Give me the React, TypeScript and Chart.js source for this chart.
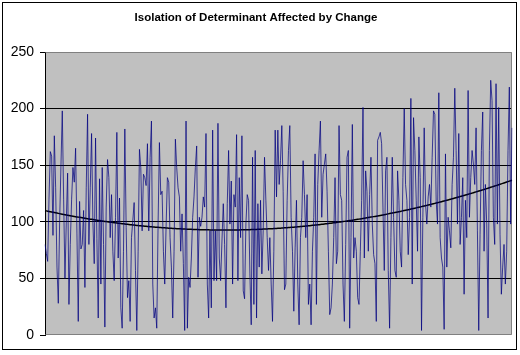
import React, { useEffect, useRef } from "react";
import { Chart, registerables } from "chart.js";

Chart.register(...registerables);

const TITLE = "Isolation of Determinant Affected by Change";
const Y_MIN = 0;
const Y_MAX = 250;
const Y_STEP = 50;

const SEG_1 = [80, 72, 65, 120, 162, 158, 88, 176, 130, 60, 28, 100, 150, 198, 120, 50, 100, 143, 27, 80, 120, 148, 135, 165, 90, 12, 118, 76, 80, 110, 42, 130, 195, 80, 130, 178, 100, 63, 174, 85, 15, 138, 45, 148, 80, 7];
const SEG_2 = [113, 155, 139, 86, 124, 74, 48, 104, 179, 68, 121, 24, 6, 74, 182, 95, 33, 48, 12, 86, 101, 117, 57, 4, 74, 164, 148, 92, 142, 139, 132, 169, 92, 157, 189, 45, 15, 24, 6, 98, 170, 124, 127, 74, 45, 95, 139, 135, 86];
const SEG_3 = [60, 15, 74, 173, 148, 130, 122, 74, 107, 63, 4, 189, 6, 51, 42, 68, 104, 122, 148, 167, 51, 104, 96, 104, 122, 113, 178, 45, 15, 92, 24, 181, 48, 92, 48, 187, 68, 48, 83, 116, 80, 24, 116, 163, 98, 136, 45, 124, 113, 177, 48, 139];
const SEG_4 = [86, 176, 39, 32, 98, 124, 119, 54, 9, 157, 27, 163, 15, 116, 60, 119, 54, 92, 157, 119, 86, 57, 86, 45, 12, 74, 181, 122, 181, 133, 154, 185, 127, 40, 45, 119, 163, 185, 104, 74, 21, 77, 119, 45, 9, 86, 104, 154, 124, 86];
const SEG_5 = [124, 27, 45, 9, 74, 104, 160, 27, 133, 163, 189, 104, 142, 151, 160, 127, 74, 18, 24, 45, 86, 139, 63, 74, 185, 124, 119, 45, 12, 80, 157, 163, 6, 86, 186, 68, 86, 74, 33, 27, 74, 119, 201, 68, 145, 127, 74, 124, 157, 98, 71];
const SEG_6 = [63, 12, 172, 175, 179, 169, 113, 57, 145, 157, 57, 6, 86, 157, 104, 57, 51, 145, 119, 74, 60, 139, 200, 133, 119, 71, 104, 209, 45, 192, 163, 119, 74, 175, 139, 4, 104, 183, 116, 98, 122, 133, 113, 157, 198, 195, 119, 98, 214, 86];
const SEG_7 = [68, 60, 5, 160, 60, 104, 92, 77, 133, 157, 218, 163, 98, 178, 80, 104, 139, 36, 119, 86, 216, 104, 139, 163, 151, 133, 183, 92, 4, 89, 163, 197, 74, 133, 98, 15, 163, 225, 207, 104, 80, 222, 98, 201, 89, 36, 60, 80, 45, 74, 163, 219, 98, 183];

const VALUES = [...SEG_1, ...SEG_2, ...SEG_3, ...SEG_4, ...SEG_5, ...SEG_6, ...SEG_7];
const CATEGORIES = VALUES.map((_, i) => String(i + 1));

// Trendline values read at evenly spaced positions across the plot
const TREND_ANCHORS = [110, 99.5, 93.5, 93, 97.3, 105.5, 118, 137];

function quadraticFit(ys: number[]) {
  const n = ys.length;
  const ts = ys.map((_, i) => i / (n - 1));
  let s0 = 0, s1 = 0, s2 = 0, s3 = 0, s4 = 0, b0 = 0, b1 = 0, b2 = 0;
  for (let i = 0; i < n; i++) {
    const t = ts[i], y = ys[i];
    s0 += 1; s1 += t; s2 += t * t; s3 += t * t * t; s4 += t * t * t * t;
    b0 += y; b1 += y * t; b2 += y * t * t;
  }
  const M = [
    [s0, s1, s2, b0],
    [s1, s2, s3, b1],
    [s2, s3, s4, b2],
  ];
  for (let c = 0; c < 3; c++) {
    for (let r = c + 1; r < 3; r++) {
      const f = M[r][c] / M[c][c];
      for (let k = c; k < 4; k++) M[r][k] -= f * M[c][k];
    }
  }
  const x = [0, 0, 0];
  for (let r = 2; r >= 0; r--) {
    let s = M[r][3];
    for (let k = r + 1; k < 3; k++) s -= M[r][k] * x[k];
    x[r] = s / M[r][r];
  }
  return (t: number) => x[0] + x[1] * t + x[2] * t * t;
}

const trendFn = quadraticFit(TREND_ANCHORS);
const TREND = VALUES.map((_, i) => trendFn(i / (VALUES.length - 1)));

const framePlugin = {
  id: "frame",
  beforeDraw(chart: any) {
    const { ctx, chartArea: a } = chart;
    ctx.save();
    ctx.fillStyle = "#ffffff";
    ctx.fillRect(0, 0, chart.width, chart.height);
    ctx.fillStyle = "#C0C0C0";
    ctx.fillRect(a.left, a.top, a.right - a.left, a.bottom - a.top);
    ctx.strokeStyle = "#000000";
    ctx.lineWidth = 1;
    ctx.strokeRect(2.5, 2.5, 514, 347);
    ctx.restore();
  },
  beforeDatasetsDraw(chart: any) {
    const { ctx, chartArea: a } = chart;
    ctx.save();
    ctx.strokeStyle = "#808080";
    ctx.lineWidth = 1;
    ctx.beginPath();
    const l = Math.round(a.left) + 0.5;
    const r = Math.round(a.right) - 0.5;
    const t = Math.round(a.top) + 0.5;
    const b = Math.round(a.bottom) - 0.5;
    ctx.moveTo(l, t);
    ctx.lineTo(r, t);
    ctx.lineTo(r, b);
    ctx.lineTo(l, b);
    ctx.stroke();
    ctx.restore();
  },
};

export default function App() {
  const ref = useRef<HTMLCanvasElement | null>(null);
  useEffect(() => {
    if (!ref.current) return;
    const chart = new Chart(ref.current, {
      type: "line",
      data: {
        labels: CATEGORIES,
        datasets: [
          {
            label: "Series",
            data: VALUES,
            borderColor: "rgba(0,0,128,0.72)",
            borderWidth: 1,
            pointRadius: 0,
            tension: 0,
            fill: false,
          },
          {
            label: "Trend",
            data: TREND,
            borderColor: "#000000",
            borderWidth: 1.5,
            pointRadius: 0,
            tension: 0,
            fill: false,
          },
        ],
      },
      options: {
        responsive: false,
        animation: false,
        devicePixelRatio: 1,
        layout: { padding: { top: 5, left: 0, right: 8, bottom: 20 } },
        plugins: {
          legend: { display: false },
          tooltip: { enabled: false },
          title: {
            display: true,
            text: TITLE,
            color: "#000000",
            font: { family: "'Liberation Sans', Arial, sans-serif", size: 11.5, weight: "bold" },
            padding: { top: 6, bottom: 27.2 },
          },
        },
        scales: {
          x: {
            type: "category",
            display: false,
            offset: false,
          },
          y: {
            min: Y_MIN,
            max: Y_MAX,
            afterFit(scale: any) {
              scale.width = 45;
            },
            ticks: {
              stepSize: Y_STEP,
              color: "#000000",
              padding: 6,
              font: { family: "'Liberation Sans', Arial, sans-serif", size: 14 },
            },
            grid: {
              color: (c: any) =>
                c.tick && (c.tick.value === Y_MIN || c.tick.value === Y_MAX) ? "rgba(0,0,0,0)" : "#000000",
              tickColor: "#000000",
              tickLength: 5,
              lineWidth: 1,
              drawTicks: true,
            },
            border: { display: true, color: "#000000", width: 1 },
          },
        },
      },
      plugins: [framePlugin],
    });
    return () => chart.destroy();
  }, []);
  return (
    <div style={{ position: "absolute", left: 0, top: 0, width: 520, height: 355 }}>
      <canvas ref={ref} width={520} height={355} style={{ display: "block" }} />
    </div>
  );
}
